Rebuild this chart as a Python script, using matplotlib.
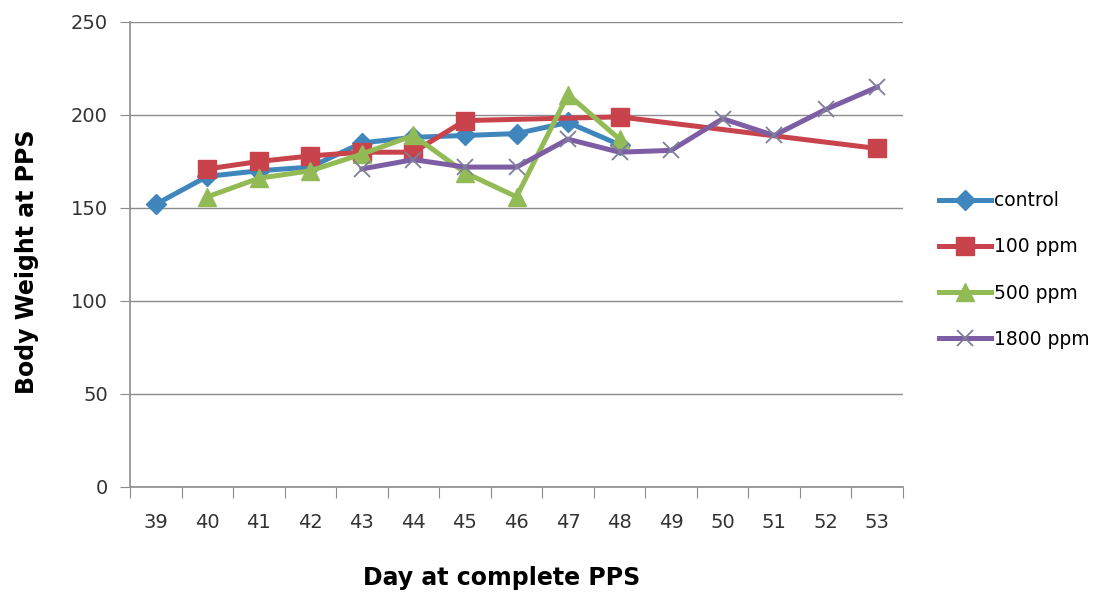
import numpy as np
import matplotlib
matplotlib.use("Agg")
import matplotlib.pyplot as plt

plt.rcParams['font.family'] = ['DejaVu Sans']

days = [39, 40, 41, 42, 43, 44, 45, 46, 47, 48, 49, 50, 51, 52, 53]

# day -> value (only the days each group has)
control_days = [39, 40, 41, 42, 43, 44, 45, 46, 47, 48]
control_vals = [152, 167, 170, 172, 185, 188, 189, 190, 196, 184]

ppm100_days = [40, 41, 42, 43, 44, 45, 48, 53]
ppm100_vals = [171, 175, 178, 180, 180, 197, 199, 182]

ppm500_days = [40, 41, 42, 43, 44, 45, 46, 47, 48]
ppm500_vals = [156, 166, 170, 179, 189, 169, 156, 211, 187]

ppm1800_days = [43, 44, 45, 46, 47, 48, 49, 50, 51, 52, 53]
ppm1800_vals = [171, 176, 172, 172, 187, 180, 181, 198, 189, 203, 215]

series = [
    ("control", control_days, control_vals, "#3f86bd", "D", 10),
    ("100 ppm", ppm100_days, ppm100_vals, "#c9434c", "s", 13),
    ("500 ppm", ppm500_days, ppm500_vals, "#93bb55", "^", 13),
    ("1800 ppm", ppm1800_days, ppm1800_vals, "#7d5ea4", "x", 12),
]

fig = plt.figure(figsize=(11.05, 5.92), dpi=100)
ax = fig.add_axes([130/1105, 1-487/592, (903-130)/1105, (487-22)/592])

pos = {d: i for i, d in enumerate(days)}
for name, dd, vv, col, mk, ms in series:
    xs = [pos[d] for d in dd]
    if mk == "x":
        ax.plot(xs, vv, color=col, lw=3.6, marker=mk, ms=ms, mew=1.3,
                mec="#7f7f9a", label=name, zorder=3)
    else:
        ax.plot(xs, vv, color=col, lw=3.6, marker=mk, ms=ms, mec=col,
                label=name, zorder=3)

ax.set_xlim(-0.5, len(days) - 0.5)
ax.set_ylim(0, 250)
ax.set_yticks(np.arange(0, 251, 50))
ax.grid(axis='y', color='#8c8c8c', lw=1.0)
ax.set_axisbelow(True)

ax.set_xticks(np.arange(-0.5, len(days), 1))
ax.set_xticklabels([])
ax.set_xticks(np.arange(len(days)), minor=True)
ax.set_xticklabels([str(d) for d in days], minor=True)
ax.tick_params(axis='x', which='major', length=8, color='#8c8c8c', direction='out')
ax.tick_params(axis='x', which='minor', length=0, pad=19, labelsize=14, labelcolor='#333333')
ax.tick_params(axis='y', length=7, color='#8c8c8c', labelsize=14, labelcolor='#333333', pad=9)

for s in ['top', 'right']:
    ax.spines[s].set_visible(False)
for s in ['left', 'bottom']:
    ax.spines[s].set_color('#8c8c8c')
    ax.spines[s].set_linewidth(1.2)

fig.text(502/1105, 1-578/592, "Day at complete PPS", ha='center', va='center',
         fontsize=17, fontweight='bold')
fig.text(27/1105, 1-262/592, "Body Weight at PPS", ha='center', va='center',
         fontsize=17, fontweight='bold', rotation=90)

fig.legend(loc='center left', bbox_to_anchor=(922/1105, 1-270/592), frameon=False,
           fontsize=13.5, labelspacing=1.45, handlelength=2.8, handletextpad=0.15)

fig.savefig("out.png", dpi=100)
